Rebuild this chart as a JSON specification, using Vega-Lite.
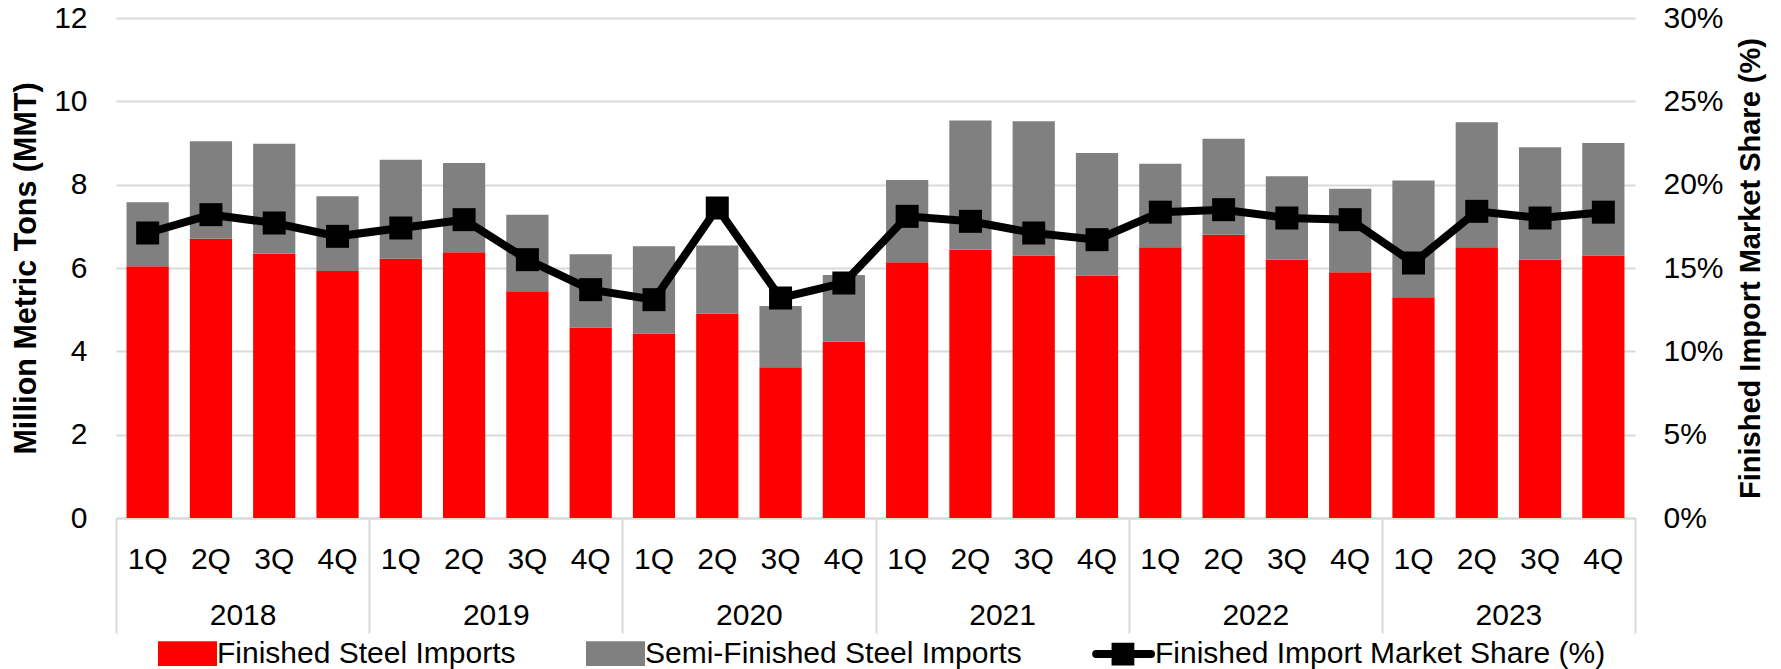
{
  "$schema": "https://vega.github.io/schema/vega-lite/v6.json",
  "width": 1519,
  "height": 500,
  "autosize": {"type": "none"},
  "padding": {"left": 116, "top": 18, "right": 146, "bottom": 151},
  "config": {
    "view": {"stroke": null},
    "font": "Liberation Sans",
    "axis": {"labelFont": "Liberation Sans", "titleFont": "Liberation Sans", "labelColor": "#000000", "titleColor": "#000000"},
    "legend": {"labelFont": "Liberation Sans", "labelColor": "#000000"}
  },
  "datasets": {
    "bars": [
      {"period": "2018 1Q", "series": "Finished Steel Imports", "mmt": 6.04},
      {"period": "2018 1Q", "series": "Semi-Finished Steel Imports", "mmt": 1.54},
      {"period": "2018 2Q", "series": "Finished Steel Imports", "mmt": 6.70},
      {"period": "2018 2Q", "series": "Semi-Finished Steel Imports", "mmt": 2.34},
      {"period": "2018 3Q", "series": "Finished Steel Imports", "mmt": 6.34},
      {"period": "2018 3Q", "series": "Semi-Finished Steel Imports", "mmt": 2.64},
      {"period": "2018 4Q", "series": "Finished Steel Imports", "mmt": 5.93},
      {"period": "2018 4Q", "series": "Semi-Finished Steel Imports", "mmt": 1.79},
      {"period": "2019 1Q", "series": "Finished Steel Imports", "mmt": 6.22},
      {"period": "2019 1Q", "series": "Semi-Finished Steel Imports", "mmt": 2.38},
      {"period": "2019 2Q", "series": "Finished Steel Imports", "mmt": 6.38},
      {"period": "2019 2Q", "series": "Semi-Finished Steel Imports", "mmt": 2.14},
      {"period": "2019 3Q", "series": "Finished Steel Imports", "mmt": 5.44},
      {"period": "2019 3Q", "series": "Semi-Finished Steel Imports", "mmt": 1.84},
      {"period": "2019 4Q", "series": "Finished Steel Imports", "mmt": 4.57},
      {"period": "2019 4Q", "series": "Semi-Finished Steel Imports", "mmt": 1.76},
      {"period": "2020 1Q", "series": "Finished Steel Imports", "mmt": 4.43},
      {"period": "2020 1Q", "series": "Semi-Finished Steel Imports", "mmt": 2.09},
      {"period": "2020 2Q", "series": "Finished Steel Imports", "mmt": 4.91},
      {"period": "2020 2Q", "series": "Semi-Finished Steel Imports", "mmt": 1.63},
      {"period": "2020 3Q", "series": "Finished Steel Imports", "mmt": 3.62},
      {"period": "2020 3Q", "series": "Semi-Finished Steel Imports", "mmt": 1.47},
      {"period": "2020 4Q", "series": "Finished Steel Imports", "mmt": 4.23},
      {"period": "2020 4Q", "series": "Semi-Finished Steel Imports", "mmt": 1.60},
      {"period": "2021 1Q", "series": "Finished Steel Imports", "mmt": 6.14},
      {"period": "2021 1Q", "series": "Semi-Finished Steel Imports", "mmt": 1.97},
      {"period": "2021 2Q", "series": "Finished Steel Imports", "mmt": 6.44},
      {"period": "2021 2Q", "series": "Semi-Finished Steel Imports", "mmt": 3.10},
      {"period": "2021 3Q", "series": "Finished Steel Imports", "mmt": 6.30},
      {"period": "2021 3Q", "series": "Semi-Finished Steel Imports", "mmt": 3.22},
      {"period": "2021 4Q", "series": "Finished Steel Imports", "mmt": 5.82},
      {"period": "2021 4Q", "series": "Semi-Finished Steel Imports", "mmt": 2.94},
      {"period": "2022 1Q", "series": "Finished Steel Imports", "mmt": 6.50},
      {"period": "2022 1Q", "series": "Semi-Finished Steel Imports", "mmt": 2.00},
      {"period": "2022 2Q", "series": "Finished Steel Imports", "mmt": 6.80},
      {"period": "2022 2Q", "series": "Semi-Finished Steel Imports", "mmt": 2.30},
      {"period": "2022 3Q", "series": "Finished Steel Imports", "mmt": 6.20},
      {"period": "2022 3Q", "series": "Semi-Finished Steel Imports", "mmt": 2.00},
      {"period": "2022 4Q", "series": "Finished Steel Imports", "mmt": 5.90},
      {"period": "2022 4Q", "series": "Semi-Finished Steel Imports", "mmt": 2.00},
      {"period": "2023 1Q", "series": "Finished Steel Imports", "mmt": 5.30},
      {"period": "2023 1Q", "series": "Semi-Finished Steel Imports", "mmt": 2.80},
      {"period": "2023 2Q", "series": "Finished Steel Imports", "mmt": 6.50},
      {"period": "2023 2Q", "series": "Semi-Finished Steel Imports", "mmt": 3.00},
      {"period": "2023 3Q", "series": "Finished Steel Imports", "mmt": 6.20},
      {"period": "2023 3Q", "series": "Semi-Finished Steel Imports", "mmt": 2.70},
      {"period": "2023 4Q", "series": "Finished Steel Imports", "mmt": 6.30},
      {"period": "2023 4Q", "series": "Semi-Finished Steel Imports", "mmt": 2.70}
    ],
    "share": [
      {"period": "2018 1Q", "share": 17.1},
      {"period": "2018 2Q", "share": 18.2},
      {"period": "2018 3Q", "share": 17.7},
      {"period": "2018 4Q", "share": 16.9},
      {"period": "2019 1Q", "share": 17.4},
      {"period": "2019 2Q", "share": 17.9},
      {"period": "2019 3Q", "share": 15.5},
      {"period": "2019 4Q", "share": 13.7},
      {"period": "2020 1Q", "share": 13.1},
      {"period": "2020 2Q", "share": 18.6},
      {"period": "2020 3Q", "share": 13.2},
      {"period": "2020 4Q", "share": 14.1},
      {"period": "2021 1Q", "share": 18.1},
      {"period": "2021 2Q", "share": 17.8},
      {"period": "2021 3Q", "share": 17.1},
      {"period": "2021 4Q", "share": 16.7},
      {"period": "2022 1Q", "share": 18.35},
      {"period": "2022 2Q", "share": 18.5},
      {"period": "2022 3Q", "share": 18.0},
      {"period": "2022 4Q", "share": 17.9},
      {"period": "2023 1Q", "share": 15.3},
      {"period": "2023 2Q", "share": 18.4},
      {"period": "2023 3Q", "share": 18.0},
      {"period": "2023 4Q", "share": 18.35}
    ],
    "years": [
      {"year": "2018"}, {"year": "2019"}, {"year": "2020"},
      {"year": "2021"}, {"year": "2022"}, {"year": "2023"}
    ]
  },
  "layer": [
    {
      "layer": [
        {
          "data": {"name": "bars"},
          "mark": {"type": "bar"},
          "encoding": {
            "x": {
              "field": "period", "type": "nominal", "sort": null,
              "scale": {"paddingInner": 0.333, "paddingOuter": 0.1665},
              "axis": {
                "orient": "bottom", "title": null, "labelAngle": 0,
                "labelExpr": "split(datum.value, ' ')[1]",
                "labelFontSize": 30, "labelPadding": 26,
                "ticks": false, "grid": false,
                "domain": true, "domainColor": "#d9d9d9", "domainWidth": 2
              }
            },
            "y": {
              "field": "mmt", "type": "quantitative", "stack": "zero",
              "scale": {"domain": [0, 12], "nice": false},
              "axis": {
                "orient": "left", "title": "Million Metric Tons (MMT)",
                "values": [0, 2, 4, 6, 8, 10, 12],
                "labelFontSize": 30, "labelPadding": 29,
                "ticks": false, "domain": false,
                "grid": true, "gridColor": "#d9d9d9", "gridWidth": 2,
                "titleFontSize": 30.5, "titleFontWeight": "bold", "titlePadding": 12
              }
            },
            "order": {"field": "series", "sort": "ascending"},
            "color": {
              "field": "series", "type": "nominal",
              "scale": {
                "domain": ["Finished Steel Imports", "Semi-Finished Steel Imports", "Finished Import Market Share (%)"],
                "range": ["#ff0000", "#808080", "#000000"]
              },
              "legend": {
                "orient": "none", "legendX": 42, "legendY": 606,
                "direction": "horizontal", "title": null, "padding": 0,
                "symbolSize": 2600, "symbolStrokeWidth": 8,
                "labelFontSize": 30, "labelLimit": 0,
                "labelOffset": 0, "columnPadding": 58,
                "encode": {
                  "symbols": {
                    "update": {
                      "shape": {"signal": "datum.value === 'Finished Import Market Share (%)' ? 'M-1.15,0H1.0M-0.39,-0.29H0.19V0.29H-0.39Z' : 'M-1,-0.33H1V0.33H-1Z'"},
                      "fill": {"signal": "datum.value === 'Finished Steel Imports' ? '#ff0000' : datum.value === 'Semi-Finished Steel Imports' ? '#808080' : '#000000'"},
                      "stroke": {"signal": "datum.value === 'Finished Import Market Share (%)' ? '#000000' : 'transparent'"},
                      "strokeCap": {"value": "round"},
                      "opacity": {"value": 1}
                    }
                  }
                }
              }
            }
          }
        },
        {
          "data": {"name": "share"},
          "mark": {"type": "line", "strokeWidth": 8, "point": {"shape": "square", "size": 529, "filled": true}},
          "encoding": {
            "x": {
              "field": "period", "type": "nominal", "sort": null, "bandPosition": 0.5,
              "scale": {"paddingInner": 0.333, "paddingOuter": 0.1665},
              "axis": {
                "orient": "bottom", "title": null, "labelAngle": 0,
                "labelExpr": "split(datum.value, ' ')[1]",
                "labelFontSize": 30, "labelPadding": 26,
                "ticks": false, "grid": false,
                "domain": true, "domainColor": "#d9d9d9", "domainWidth": 2
              }
            },
            "y": {
              "field": "share", "type": "quantitative",
              "scale": {"domain": [0, 30], "nice": false},
              "axis": {
                "orient": "right", "title": "Finished Import Market Share (%)",
                "values": [0, 5, 10, 15, 20, 25, 30],
                "labelExpr": "datum.value + '%'",
                "labelFontSize": 30, "labelPadding": 28,
                "ticks": false, "domain": false, "grid": false,
                "titleFontSize": 29, "titleFontWeight": "bold", "titlePadding": 13,
                "titleAngle": 270, "titleBaseline": "top"
              }
            },
            "color": {"datum": "Finished Import Market Share (%)"}
          }
        }
      ],
      "resolve": {"scale": {"y": "independent"}}
    },
    {
      "data": {"name": "years"},
      "mark": {"type": "point", "opacity": 0},
      "encoding": {
        "x": {
          "field": "year", "type": "nominal", "sort": null,
          "scale": {"type": "band", "paddingInner": 0, "paddingOuter": 0},
          "axis": {
            "orient": "bottom", "title": null, "labelAngle": 0,
            "labelFontSize": 30, "labelPadding": -32.5,
            "ticks": true, "tickBand": "extent", "tickSize": 115,
            "tickColor": "#d9d9d9", "tickWidth": 2,
            "domain": false, "grid": false
          }
        }
      }
    }
  ],
  "resolve": {"scale": {"x": "independent"}}
}
